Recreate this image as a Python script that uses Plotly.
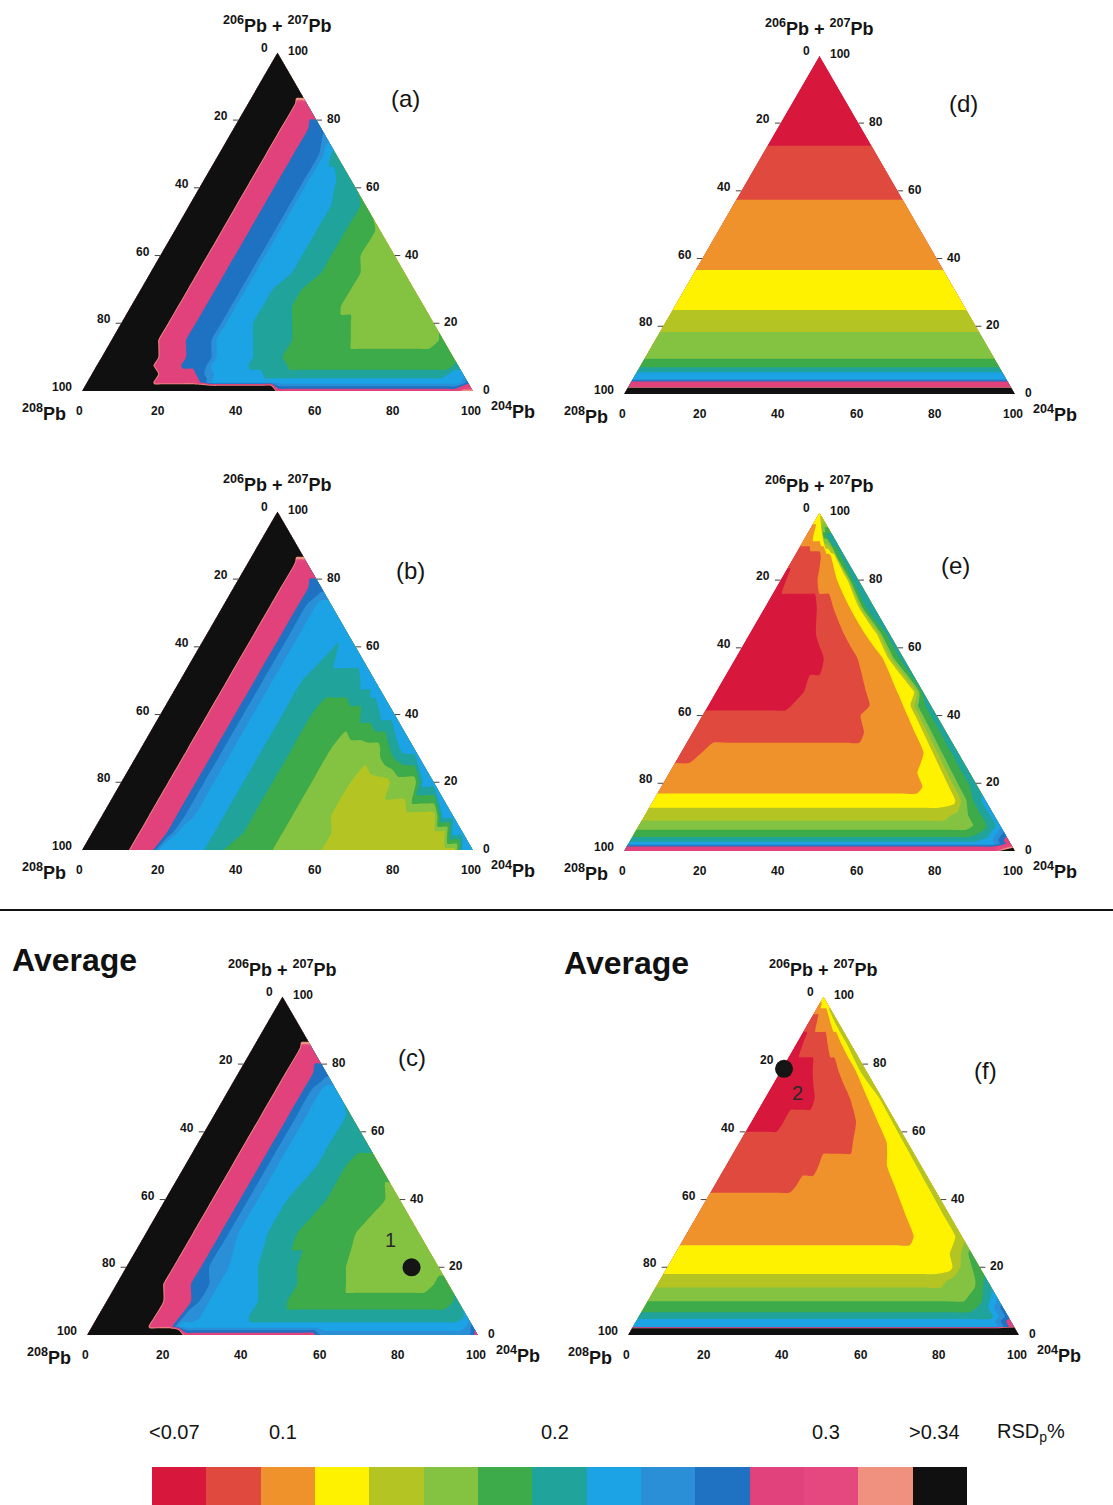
import math
import plotly.graph_objects as go

FIG_W, FIG_H = 1113, 1505
SIDE_PX = 391.0                 # side of every triangle, in pixels
SQ3 = math.sqrt(3) / 2
PX = SIDE_PX / 100.0            # pixels per composition percent

# ---------------------------------------------------------------- RSD classes
RSD_CLASS_CENTRES = [0.06, 0.08, 0.10, 0.12, 0.14, 0.16, 0.18, 0.20,
                     0.22, 0.24, 0.26, 0.28, 0.30, 0.32, 0.34]
RSD_CLASS_COLOURS = ['#d8173d', '#e04a3e', '#f0922c', '#fef200', '#b4c523',
                     '#84c242', '#3dab49', '#1fa39b', '#1ba3e6', '#2a8fd6',
                     '#1f71c2', '#e1427c', '#e4487f', '#f0907f', '#101010']
COLORBAR_TICKVALS = [0.06, 0.10, 0.20, 0.30, 0.34]
COLORBAR_TICKTEXT = ['<0.07', '0.1', '0.2', '0.3', '>0.34']

# class code used in the map rows -> RSD_p (%)
CODE_RSD = {'0': 0.06, '1': 0.08, '2': 0.10, '3': 0.12, '4': 0.14,
            '5': 0.16, '6': 0.18, '7': 0.20, '8': 0.22, '9': 0.24,
            'A': 0.26, 'P': 0.288, 'S': 0.32, 'K': 0.50}

# sampling along a row: either absolute 204Pb (%) or fraction of the row
R_GRID = [0, 2.5, 5, 7.5, 10, 12.5, 15, 17.5, 20, 22.5, 25, 27.5, 30, 32.5,
          35, 37.5, 40, 42.5, 45, 47.5, 50, 52.5, 55, 57.5, 60, 62.5, 65,
          67.5, 70, 72.5, 75, 77.5, 80, 82.5, 85, 87.5, 90, 92.5, 95, 97.5, 100]
ROW_FRACTION = [0.0, 0.05, 0.1, 0.15, 0.2, 0.25, 0.3, 0.35, 0.4, 0.45, 0.5,
                0.55, 0.6, 0.65, 0.7, 0.75, 0.8, 0.85, 0.9, 0.95, 1.0]

TICK_VALUES = [0, 20, 40, 60, 80, 100]
EDGE_TICKS = [20, 40, 60, 80]

# ---------------------------------------------------------------- map data
# each row: 206Pb+207Pb level (%) and runs of RSD class along that row
# (count*class), running from the 208Pb side to the 204Pb side
A_LEVELS = [0, 2.5, 5, 7.5, 10, 15, 20, 25, 30, 35, 40, 47.5, 55, 62.5, 70,
            77.5, 85, 92.5, 100]
A_ROWS = [
    "20*K 19*P 2*S",
    "7*K 5*P 1*A 26*8 1*A",
    "7*K 4*P 1*A 1*9 5*8 19*7 2*8",
    "6*K 3*P 3*A 4*8 4*7 17*6 1*7",
    "6*K 3*P 3*A 4*8 3*7 18*6",
    "5*K 3*P 3*A 4*8 4*7 6*6 9*5 1*6",
    "5*K 3*P 3*A 3*8 4*7 6*6 9*5",
    "5*K 3*P 3*A 3*8 3*7 5*6 9*5",
    "5*K 3*P 3*A 3*8 3*7 5*6 7*5",
    "5*K 3*P 3*A 4*8 3*7 4*6 5*5",
    "5*K 3*P 3*A 4*8 3*7 3*6 4*5",
    "5*K 3*P 3*A 4*8 3*7 3*6 1*5",
    "5*K 3*P 3*A 4*8 3*7 1*6",
    "5*K 3*P 3*A 3*8 2*7",
    "5*K 3*P 3*A 1*8 1*7",
    "5*K 3*P 2*A",
    "5*K 2*P",
    "4*K",
    "1*K"]

B_LEVELS = [0, 5, 10, 20, 30, 40, 50, 57.5, 65, 72.5, 77.5, 85, 92.5, 100]
B_ROWS = [
    "5*K 3*P 5*8 2*7 5*6 5*5 14*4 2*8",
    "5*K 3*P 1*A 4*8 3*7 4*6 5*5 12*4 2*8",
    "5*K 3*P 1*A 1*9 3*8 3*7 4*6 4*5 11*4 2*8",
    "5*K 3*P 1*A 1*9 3*8 3*7 4*6 4*5 4*4 3*5 2*8",
    "5*K 3*P 1*A 1*9 3*8 3*7 4*6 5*5 1*6 1*7 2*8",
    "5*K 3*P 1*A 1*9 3*8 3*7 5*6 2*7 2*8",
    "5*K 3*P 1*A 1*9 3*8 6*7 2*8",
    "5*K 3*P 1*A 1*9 4*8 1*7 3*8",
    "5*K 3*P 1*A 1*9 5*8",
    "5*K 3*P 1*A 1*9 2*8",
    "5*K 3*P 2*A",
    "5*K 2*P",
    "4*K",
    "1*K"]

C_LEVELS = [0, 2.5, 5, 10, 15, 20, 30, 40, 50, 57.5, 65, 72.5, 77.5, 85, 92.5, 100]
C_ROWS = [
    "10*K 14*P 16*9 1*P",
    "6*K 3*P 30*8 1*A",
    "6*K 3*P 2*9 5*8 22*7 1*8",
    "6*K 3*P 1*A 1*9 5*8 3*7 17*6 1*7",
    "5*K 3*P 2*A 1*9 4*8 4*7 5*6 9*5 2*6",
    "5*K 3*P 1*A 2*9 3*8 4*7 5*6 10*5",
    "5*K 3*P 1*A 1*9 3*8 3*7 6*6 7*5",
    "5*K 3*P 1*A 1*9 3*8 4*7 6*6 2*5",
    "5*K 3*P 1*A 1*9 4*8 3*7 4*6",
    "5*K 3*P 1*A 1*9 4*8 4*7",
    "5*K 3*P 1*A 1*9 4*8 1*7",
    "5*K 3*P 1*A 1*9 2*8",
    "5*K 3*P 2*A",
    "5*K 2*P",
    "4*K",
    "1*K"]

D_LEVELS = [0, 0.9, 2.1, 3.4, 4.6, 5.8, 7.0, 7.4, 8.4, 9.9, 10.9, 17.8, 18.8,
            24.3, 25.3, 36.1, 37.1, 56.9, 57.9, 72.8, 73.8, 100]
D_ROWS = ["21*K", "21*K", "21*P", "21*P", "21*8", "21*8", "21*7", "21*7",
          "21*6", "21*6", "21*5", "21*5", "21*4", "21*4", "21*3", "21*3",
          "21*2", "21*2", "21*1", "21*1", "21*0", "21*0"]

E_LEVELS = [0, 1, 2.2, 3.2, 5, 7.5, 10.5, 15, 19, 23, 29, 35, 40, 43, 47, 57,
            64, 72, 80, 87, 93, 100]
E_ROWS = [
    "20*P 1*K", "20*P 1*S", "20*8 1*P", "19*7 1*8 1*P", "19*6 1*7 1*A",
    "19*5 1*6 1*8", "18*4 1*5 1*6 1*8", "19*3 1*6 1*8",
    "17*2 2*3 1*6 1*7", "17*2 2*3 1*6 1*7", "2*1 16*2 1*3 1*6 1*7",
    "14*1 4*2 1*3 1*6 1*7", "14*1 4*2 1*3 1*6 1*7",
    "8*0 7*1 3*2 1*3 1*6 1*7", "9*0 6*1 3*2 2*3 1*7",
    "11*0 4*1 3*2 1*3 1*6 1*7", "10*0 4*1 3*2 2*3 1*6 1*7",
    "10*0 3*1 3*2 2*3 1*6 2*7", "2*0 8*1 5*2 3*3 1*6 2*7",
    "11*1 4*2 2*3 2*6 2*7", "6*2 7*3 3*6 5*7", "21*3"]

F_LEVELS = [0, 1.2, 2.5, 4, 5.5, 8, 12, 16, 20, 24, 29, 35, 40, 44, 50, 57,
            63, 70, 78, 86, 93, 100]
F_ROWS = [
    "21*K", "21*K", "20*8 1*P", "20*8 1*P", "20*7 1*A", "19*6 1*7 1*A",
    "19*5 1*6 1*8", "18*4 2*5 1*7", "19*3 1*5 1*6", "19*3 1*4 1*6",
    "17*2 3*3 1*4", "17*2 3*3 1*4", "17*2 3*3 1*4", "8*1 9*2 3*3 1*4",
    "10*1 7*2 3*3 1*4", "14*1 4*2 2*3 1*4", "5*0 10*1 3*2 2*3 1*4",
    "9*0 6*1 3*2 2*3 1*4", "8*0 6*1 4*2 1*3 2*4", "3*0 9*1 5*2 2*3 2*4",
    "6*1 9*2 3*3 3*4", "21*3"]

# marked compositions: (204Pb %, 206Pb+207Pb %), label text
POINT_C = (73.0, 20.0, "1")
POINT_F = (0.6, 78.6, "2")

# panel layout: letter, axis number, left corner x (px), base line y (px),
# letter offset (px), row sampling, row levels, rows
PANELS = [
    ("(a)", 1, 82, 391, (323, -293), "R", A_LEVELS, A_ROWS),
    ("(b)", 2, 82, 850, (328, -280), "R", B_LEVELS, B_ROWS),
    ("(c)", 3, 87, 1335, (325, -278), "R", C_LEVELS, C_ROWS),
    ("(d)", 4, 624, 394, (339, -291), "S", D_LEVELS, D_ROWS),
    ("(e)", 5, 624, 851, (331, -286), "S", E_LEVELS, E_ROWS),
    ("(f)", 6, 628, 1335, (357, -265), "S", F_LEVELS, F_ROWS),
]

FONT = "Arial, Liberation Sans, Helvetica, sans-serif"
TEXT_COL = "#141414"


def ternary_xy(pb204, pb206_207):
    """Cartesian position inside a unit-100 equilateral triangle."""
    return pb204 + pb206_207 / 2.0, pb206_207 * SQ3


def expand_runs(row):
    codes = []
    for tok in row.split():
        count, code = tok.split("*")
        codes += [code] * int(count)
    return codes


def fit_length(codes, n):
    if len(codes) >= n:
        return codes[:n]
    return codes + [codes[-1]] * (n - len(codes))


def stepped_scale(colours):
    n = len(colours) - 1
    scale = []
    for k, c in enumerate(colours):
        lo = max(0.0, (k - 0.5) / n)
        hi = min(1.0, (k + 0.5) / n)
        scale.append([lo, c])
        scale.append([hi, c])
    return scale


COLORSCALE = stepped_scale(RSD_CLASS_COLOURS)

fig = go.Figure()
annotations = []
layout_axes = {}

hidden_carpet_axis = dict(showgrid=False, showline=False, showticklabels="none",
                          startline=False, endline=False, minorgridcount=0,
                          smoothing=0, gridcolor="rgba(0,0,0,0)",
                          linecolor="rgba(0,0,0,0)")

for letter, n, x0, base, loff, sampling, levels, rows in PANELS:
    xa = "x" if n == 1 else f"x{n}"
    ya = "y" if n == 1 else f"y{n}"
    layout_axes["xaxis" if n == 1 else f"xaxis{n}"] = dict(
        domain=[x0 / FIG_W, (x0 + SIDE_PX) / FIG_W], range=[0, 100],
        visible=False, fixedrange=True)
    layout_axes["yaxis" if n == 1 else f"yaxis{n}"] = dict(
        domain=[(FIG_H - base) / FIG_H, (FIG_H - base + SIDE_PX * SQ3) / FIG_H],
        range=[0, 100 * SQ3], visible=False, fixedrange=True)

    a_vals = R_GRID if sampling == "R" else ROW_FRACTION
    gx, gy, gz = [], [], []
    for t, row in zip(levels, rows):
        codes = expand_runs(row)
        if sampling == "R":
            # samples stop at the 204Pb side; the rest of the row sits on it
            n_real = int(round((100 - t) / 2.5)) + 1
            codes = fit_length(fit_length(codes, n_real), len(R_GRID))
            pts = [ternary_xy(min(r, 100 - t), t) for r in R_GRID]
        else:
            codes = fit_length(codes, len(ROW_FRACTION))
            pts = [ternary_xy(s * (100 - t), t) for s in ROW_FRACTION]
        gx.append([p[0] for p in pts])
        gy.append([p[1] for p in pts])
        gz.append([CODE_RSD[c] for c in codes])

    cid = f"tri{n}"
    fig.add_trace(go.Carpet(a=a_vals, b=levels, x=gx, y=gy, carpet=cid,
                            xaxis=xa, yaxis=ya, aaxis=hidden_carpet_axis,
                            baxis=hidden_carpet_axis))
    fig.add_trace(go.Contourcarpet(
        a=a_vals, b=levels, z=gz, carpet=cid, xaxis=xa, yaxis=ya,
        autocontour=False,
        contours=dict(start=0.07, end=0.33, size=0.02, coloring="fill",
                      showlines=False),
        line=dict(width=0, smoothing=0.6), colorscale=COLORSCALE,
        showscale=False))

    # small tick marks on the two slanted sides
    tx, ty = [], []
    for t in EDGE_TICKS:
        ex, ey = ternary_xy(0, t)
        tx += [ex - 1.4, ex, None]
        ty += [ey, ey, None]
        ex, ey = ternary_xy(100 - t, t)
        tx += [ex, ex + 1.4, None]
        ty += [ey, ey, None]
    fig.add_trace(go.Scatter(x=tx, y=ty, mode="lines", xaxis=xa, yaxis=ya,
                             line=dict(color="#444", width=1), cliponaxis=False,
                             hoverinfo="skip", showlegend=False))

    tick_font = dict(family=FONT, size=12, color=TEXT_COL)
    for v in TICK_VALUES:
        lab = f"<b>{v}</b>"
        # 204Pb along the base
        bx, by = ternary_xy(v, 0)
        annotations.append(dict(x=bx, y=by, xref=xa, yref=ya, text=lab,
                                showarrow=False, font=tick_font, yshift=-20,
                                xshift=-2))
        # 208Pb along the left side
        lx, ly = ternary_xy(0, 100 - v)
        annotations.append(dict(x=lx, y=ly, xref=xa, yref=ya, text=lab,
                                showarrow=False, font=tick_font, xanchor="right",
                                xshift=-8, yshift=4))
        # 206Pb+207Pb along the right side
        rx, ry = ternary_xy(100 - v, v)
        annotations.append(dict(x=rx, y=ry, xref=xa, yref=ya, text=lab,
                                showarrow=False, font=tick_font, xanchor="left",
                                xshift=8, yshift=1))

    title_font = dict(family=FONT, size=18, color=TEXT_COL)
    ax_, ay_ = ternary_xy(0, 100)
    annotations.append(dict(x=ax_, y=ay_, xref=xa, yref=ya,
                            text="<b><sup>206</sup>Pb + <sup>207</sup>Pb</b>",
                            showarrow=False, font=title_font, yshift=28))
    annotations.append(dict(x=0, y=0, xref=xa, yref=ya,
                            text="<b><sup>208</sup>Pb</b>",
                            showarrow=False, font=title_font, xshift=-38,
                            yshift=-21))
    annotations.append(dict(x=100, y=0, xref=xa, yref=ya,
                            text="<b><sup>204</sup>Pb</b>",
                            showarrow=False, font=title_font, xshift=40,
                            yshift=-19))
    annotations.append(dict(x=loff[0] / PX, y=-loff[1] / PX, xref=xa, yref=ya,
                            text=letter, showarrow=False,
                            font=dict(family=FONT, size=24, color=TEXT_COL)))

# marked compositions in the two averaged maps
for (pb204, pb2067, label), n, shift in ((POINT_C, 3, (-21, 27)),
                                         (POINT_F, 6, (13, -24))):
    px, py = ternary_xy(pb204, pb2067)
    fig.add_trace(go.Scatter(x=[px], y=[py], mode="markers", xaxis=f"x{n}",
                             yaxis=f"y{n}", cliponaxis=False, showlegend=False,
                             marker=dict(size=18, color="#151515"),
                             hoverinfo="skip"))
    annotations.append(dict(x=px, y=py, xref=f"x{n}", yref=f"y{n}", text=label,
                            showarrow=False, xshift=shift[0], yshift=shift[1],
                            font=dict(family=FONT, size=20, color="#2a2a2a")))

# "Average" headings
for x_left, y_px in ((10, 960), (562, 963)):
    annotations.append(dict(x=x_left / FIG_W, y=1 - y_px / FIG_H, xref="paper",
                            yref="paper", text="<b>Average</b>", showarrow=False,
                            xanchor="left", yanchor="middle",
                            font=dict(family=FONT, size=32, color="#111")))

# colour key
layout_axes["xaxis7"] = dict(domain=[152 / FIG_W, 967 / FIG_W], range=[0.05, 0.35],
                             visible=False, fixedrange=True)
layout_axes["yaxis7"] = dict(domain=[0, 38 / FIG_H], range=[-0.5, 0.5],
                             visible=False, fixedrange=True)
fig.add_trace(go.Heatmap(x=RSD_CLASS_CENTRES, y=[0], z=[RSD_CLASS_CENTRES],
                         xaxis="x7", yaxis="y7", colorscale=COLORSCALE,
                         zmin=RSD_CLASS_CENTRES[0], zmax=RSD_CLASS_CENTRES[-1],
                         showscale=False, hoverinfo="skip"))
key_font = dict(family=FONT, size=20, color=TEXT_COL)
for v, txt in zip(COLORBAR_TICKVALS, COLORBAR_TICKTEXT):
    annotations.append(dict(x=v, y=1 - 1432 / FIG_H, xref="x7", yref="paper",
                            text=txt, showarrow=False, xshift=-5,
                            xanchor="center", yanchor="middle", font=key_font))
annotations.append(dict(x=1031 / FIG_W, y=1 - 1432 / FIG_H, xref="paper",
                        yref="paper", text="RSD<sub>p</sub>%", showarrow=False,
                        xanchor="center", yanchor="middle", font=key_font))

fig.update_layout(
    width=FIG_W, height=FIG_H, autosize=False,
    margin=dict(l=0, r=0, t=0, b=0),
    paper_bgcolor="white", plot_bgcolor="white",
    showlegend=False,
    annotations=annotations,
    shapes=[dict(type="line", xref="paper", yref="paper", x0=0, x1=1,
                 y0=1 - 910 / FIG_H, y1=1 - 910 / FIG_H,
                 line=dict(color="#111", width=2))],
    **layout_axes,
)

fig.write_html("out.html")
